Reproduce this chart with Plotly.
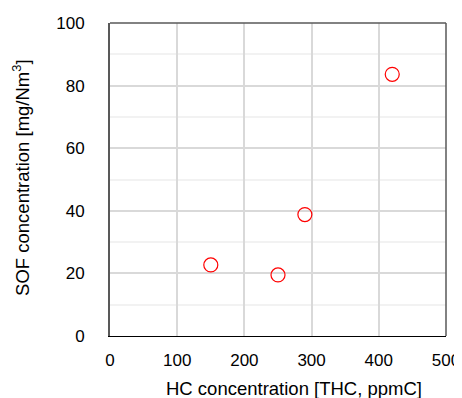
import plotly.graph_objects as go

hc_thc = [150, 250, 290, 420]
sof = [22.7, 19.5, 38.8, 83.6]

x_ticks = [0, 100, 200, 300, 400, 500]
y_ticks = [0, 20, 40, 60, 80, 100]

x_title = "HC concentration [THC, ppmC]"
y_title = "SOF concentration [mg/Nm<sup>3</sup>]"

fig = go.Figure()
fig.add_trace(go.Scatter(
    x=hc_thc, y=sof, mode="markers",
    marker=dict(symbol="circle-open", size=14, color="#FF0000", line=dict(width=1.2)),
    showlegend=False, cliponaxis=False,
))

family = "Liberation Sans, Arial, sans-serif"
tick_font = dict(family=family, size=17, color="#000000")
title_font = dict(family=family, size=18.5, color="#000000")

# page body has an 8px margin, so the figure is sized to fit the window
fig.update_layout(
    width=454, height=390,
    margin=dict(l=102, r=16, t=15, b=62),
    paper_bgcolor="white", plot_bgcolor="white",
    font=tick_font,
    xaxis=dict(
        range=[0, 500], tickvals=x_ticks, ticks="", showgrid=True,
        gridcolor="#D9D9D9", gridwidth=1.5, zeroline=False,
        showline=True, linecolor="#000000", linewidth=1,
        tickfont=tick_font, automargin=False, ticklabelstandoff=9,
    ),
    yaxis=dict(
        range=[0, 100], tickvals=y_ticks, ticks="", showgrid=True,
        gridcolor="#D9D9D9", gridwidth=1.5, zeroline=False,
        showline=True, linecolor="#595959", linewidth=2,
        minor=dict(dtick=10, showgrid=True, gridcolor="#F2F2F2", gridwidth=1.5),
        tickfont=tick_font, automargin=False, ticklabelstandoff=20,
    ),
    shapes=[
        dict(type="line", xref="paper", yref="paper", x0=0, x1=1, y0=1, y1=1,
             line=dict(color="#595959", width=1.5)),
        dict(type="line", xref="paper", yref="paper", x0=1, x1=1, y0=0, y1=1,
             line=dict(color="#595959", width=1.5)),
    ],
    annotations=[
        dict(text=x_title, xref="paper", yref="paper", x=0.548, y=-0.169,
             xanchor="center", yanchor="middle", showarrow=False, font=title_font),
        dict(text=y_title, xref="paper", yref="paper", x=-0.265, y=0.505,
             xanchor="center", yanchor="middle", textangle=-90, showarrow=False, font=title_font),
    ],
)

fig.write_html("out.html")
